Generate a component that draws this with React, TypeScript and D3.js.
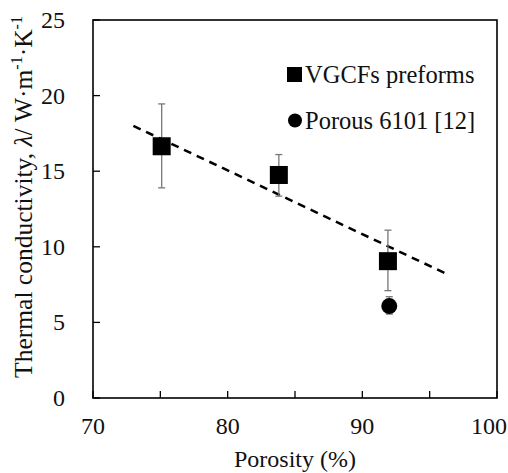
import * as d3 from 'd3';

// VGCFs preforms
const porosity = [75.1, 83.8, 91.9];
const conductivity = [16.65, 14.75, 9.05];
const errLow = [13.9, 13.35, 7.1];
const errHigh = [19.45, 16.1, 11.1];

// Porous 6101 [12]
const refPorosity = [92.0];
const refConductivity = [6.08];
const refLow = [5.55];
const refHigh = [6.7];

// linear trend line end points
const trendX = [73.0, 96.1];
const trendY = [18.0, 8.27];

const xTicks = [70, 75, 80, 85, 90, 95, 100];
const xLabels = [70, 80, 90, 100];
const yTicks = [0, 5, 10, 15, 20, 25];

const W = 508;
const H = 473;
const m = { left: 93, right: 11, top: 20, bottom: 75 };
const font = 'Liberation Serif, DejaVu Serif, serif';

export default function App() {
  const x = d3.scaleLinear().domain([70, 100]).range([m.left, W - m.right]);
  const y = d3.scaleLinear().domain([0, 25]).range([H - m.bottom, m.top]);
  const line = d3.line<number>().x((d) => x(d)).y((_, i) => y(trendY[i]));

  const sq = 18;
  const cap = 3.5;
  const errColor = '#777';

  return (
    <svg width={W} height={H} style={{ position: 'absolute', left: 0, top: 0, background: '#fff', fontFamily: font }}>
      {/* ticks, inside */}
      {xTicks.map((t) => (
        <line key={'xt' + t} x1={x(t)} x2={x(t)} y1={y(0)} y2={y(0) - 7} stroke="#000" strokeWidth={1.3} />
      ))}
      {yTicks.map((t) => (
        <line key={'yt' + t} x1={x(70)} x2={x(70) + 7} y1={y(t)} y2={y(t)} stroke="#000" strokeWidth={1.3} />
      ))}
      <rect x={x(70)} y={y(25)} width={x(100) - x(70)} height={y(0) - y(25)} fill="none" stroke="#000" strokeWidth={1.6} />

      {xLabels.map((t) => (
        <text key={'xl' + t} x={Math.min(x(t), W - 19)} y={y(0) + 36} textAnchor="middle" fontSize={24} fill="#111">{t}</text>
      ))}
      {yTicks.map((t) => (
        <text key={'yl' + t} x={x(70) - 28} y={y(t) + 8} textAnchor="end" fontSize={24} fill="#111">{t}</text>
      ))}

      <text x={(x(70) + x(100)) / 2} y={467} textAnchor="middle" fontSize={24} fill="#111">Porosity (%)</text>
      <text transform={`translate(32,197) rotate(-90)`} textAnchor="middle" fontSize={25.5} fill="#111">
        Thermal conductivity, <tspan fontStyle="italic">λ</tspan>/ W·m<tspan fontSize={16} dy={-10}>-1</tspan><tspan dy={10}>·K</tspan><tspan fontSize={16} dy={-10}>-1</tspan>
      </text>

      {/* trend line */}
      <path d={line(trendX) || ''} fill="none" stroke="#000" strokeWidth={2.5} strokeDasharray="8,6" />

      {/* error bars */}
      {porosity.map((p, i) => (
        <g key={'e' + i} stroke={errColor} strokeWidth={1.3}>
          <line x1={x(p)} x2={x(p)} y1={y(errLow[i])} y2={y(errHigh[i])} />
          <line x1={x(p) - cap} x2={x(p) + cap} y1={y(errLow[i])} y2={y(errLow[i])} />
          <line x1={x(p) - cap} x2={x(p) + cap} y1={y(errHigh[i])} y2={y(errHigh[i])} />
        </g>
      ))}
      {refPorosity.map((p, i) => (
        <g key={'re' + i} stroke={errColor} strokeWidth={1.3}>
          <line x1={x(p)} x2={x(p)} y1={y(refLow[i])} y2={y(refHigh[i])} />
          <line x1={x(p) - cap} x2={x(p) + cap} y1={y(refLow[i])} y2={y(refLow[i])} />
          <line x1={x(p) - cap} x2={x(p) + cap} y1={y(refHigh[i])} y2={y(refHigh[i])} />
        </g>
      ))}

      {porosity.map((p, i) => (
        <rect key={'s' + i} x={x(p) - sq / 2} y={y(conductivity[i]) - sq / 2} width={sq} height={sq} fill="#000" />
      ))}
      {refPorosity.map((p, i) => (
        <circle key={'c' + i} cx={x(p)} cy={y(refConductivity[i])} r={8} fill="#000" />
      ))}

      {/* legend */}
      <rect x={287} y={67} width={15} height={15} fill="#000" />
      <text x={305} y={83} fontSize={24.5} fill="#111">VGCFs preforms</text>
      <circle cx={295} cy={120.5} r={7} fill="#000" />
      <text x={305} y={129} fontSize={24.5} fill="#111">Porous 6101 [12]</text>
    </svg>
  );
}
